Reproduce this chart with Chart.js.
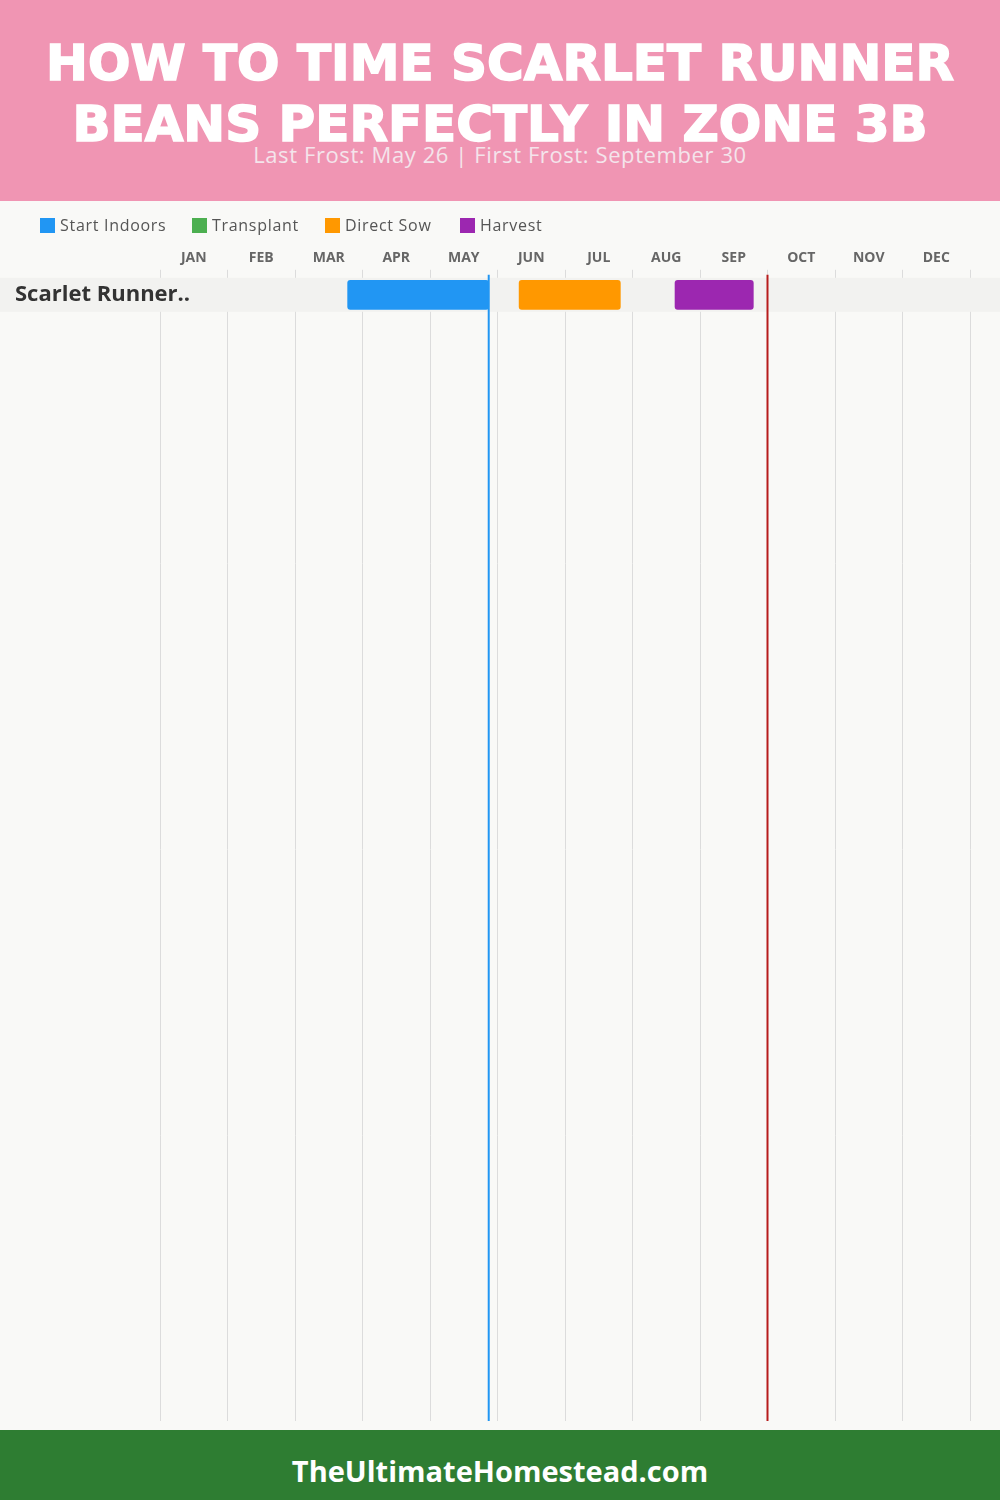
<!DOCTYPE html>
<html><head><meta charset="utf-8">
<script src="https://cdn.jsdelivr.net/npm/chart.js@4.4.1/dist/chart.umd.min.js"></script>
<style>
html,body{margin:0;padding:0;width:1000px;height:1500px;overflow:hidden;background:#f9f9f7;font-family:"Open Sans",sans-serif;}
#header{position:absolute;left:0;top:0;width:1000px;height:201px;background:#f095b3;z-index:2;}
#title{position:absolute;left:0;top:33px;width:1000px;text-align:center;color:#fff;font-family:"DejaVu Sans",sans-serif;font-weight:bold;font-size:50px;line-height:61px;margin:0;-webkit-text-stroke:1.6px #fff;}
#subtitle{position:absolute;left:0;top:140px;width:1000px;text-align:center;color:#f4e4eb;font-size:22px;letter-spacing:0.6px;line-height:28px;}
#legend{position:absolute;top:214px;left:0;width:1000px;height:22px;z-index:3;}
.item{position:absolute;top:0;white-space:nowrap;font-size:16px;letter-spacing:0.7px;color:#555;line-height:22px;}
.sw{display:inline-block;width:15px;height:15px;vertical-align:-2px;margin-right:5px;}
#chartwrap{position:absolute;left:0;top:200px;width:1000px;height:1230px;z-index:1;}
#footer{position:absolute;left:0;top:1430px;width:1000px;height:64px;padding-top:6px;background:#2e7d32;color:#fff;font-weight:bold;font-size:29px;text-align:center;line-height:70px;z-index:2;}
</style>
</head>
<body>
<div id="header">
  <h1 id="title">HOW TO TIME SCARLET RUNNER<br>BEANS PERFECTLY IN ZONE 3B</h1>
  <div id="subtitle">Last Frost: May 26 | First Frost: September 30</div>
</div>
<div id="legend"></div>
<div id="chartwrap"><canvas id="c" width="1000" height="1230"></canvas></div>
<div id="footer">TheUltimateHomestead.com</div>
<script>
// ---- data ----
const months = ['JAN','FEB','MAR','APR','MAY','JUN','JUL','AUG','SEP','OCT','NOV','DEC'];
const crops = ['Scarlet Runner..'];
const seriesNames = ['Start Indoors','Transplant','Direct Sow','Harvest'];
const seriesColors = ['#2196f3','#4caf50','#ff9800','#9c27b0'];
// month-index ranges (0 = Jan 1, 12 = Dec 31) per crop
const startIndoors = [[2.78, 4.87]];
const transplant   = [];
const directSow    = [[5.32, 6.82]];
const harvest      = [[7.63, 8.79]];
const lastFrost  = 4.87;  // May 26
const firstFrost = 9.0;   // September 30
const visibleRows = 33.59;

// ---- legend (html) ----
const legendLeft = [40, 192, 325, 460];
const lg = document.getElementById('legend');
seriesNames.forEach((n, i) => {
  const d = document.createElement('div');
  d.className = 'item';
  d.style.left = legendLeft[i] + 'px';
  d.innerHTML = '<span class="sw" style="background:' + seriesColors[i] + '"></span>' + n;
  lg.appendChild(d);
});

Chart.defaults.font.family = "'Open Sans', sans-serif";

const seriesData = [startIndoors, transplant, directSow, harvest];
const datasets = seriesNames.map((n, i) => ({
  label: n,
  data: seriesData[i].map((r, k) => ({x: r, y: k})),
  backgroundColor: seriesColors[i],
  borderRadius: 3,
  borderSkipped: false,
  barThickness: 29,
  grouped: false
}));

const bandPlugin = {
  id: 'band',
  beforeDatasetsDraw(chart) {
    const {ctx} = chart; const y = chart.scales.y;
    ctx.save();
    ctx.fillStyle = '#f2f2f0';
    crops.forEach((c, i) => {
      const t = y.getPixelForValue(i - 0.5), b = y.getPixelForValue(i + 0.5);
      ctx.fillRect(0, t, chart.width, b - t);
    });
    ctx.restore();
  },
  afterDatasetsDraw(chart) {
    const {ctx, chartArea} = chart; const x = chart.scales.x;
    ctx.save();
    ctx.lineWidth = 2;
    [[lastFrost, '#2196f3'], [firstFrost, '#b71c1c']].forEach(([v, c]) => {
      const px = x.getPixelForValue(v);
      ctx.strokeStyle = c;
      ctx.beginPath();
      ctx.moveTo(px, chartArea.top - 3);
      ctx.lineTo(px, chartArea.bottom);
      ctx.stroke();
    });
    ctx.restore();
  }
};

new Chart(document.getElementById('c'), {
  type: 'bar',
  data: {datasets},
  options: {
    indexAxis: 'y',
    responsive: false,
    animation: false,
    layout: {padding: {top: 47, left: 15, right: 30, bottom: 9}},
    plugins: {legend: {display: false}, tooltip: {enabled: false}},
    scales: {
      x: {
        type: 'linear', position: 'top', min: 0, max: 12,
        border: {display: false},
        grid: {color: '#dcdcdc', lineWidth: 1, tickLength: 8},
        ticks: {
          stepSize: 1, autoSkip: false, maxRotation: 0, padding: 3,
          labelOffset: 33.75,
          color: '#666', font: {size: 14, weight: 'bold'},
          callback: v => months[v] || ''
        }
      },
      y: {
        type: 'linear', reverse: true, offset: false,
        min: -0.5, max: -0.5 + visibleRows,
        border: {display: false},
        grid: {display: false, offset: false},
        afterBuildTicks: s => { s.ticks = crops.map((c, i) => ({value: i})); },
        afterFit: s => { s.width = 145; },
        ticks: {
          z: 1, mirror: true, padding: -145,
          color: '#333', font: {size: 22, weight: 'bold'},
          callback: v => crops[v]
        }
      }
    }
  },
  plugins: [bandPlugin]
});
</script>
</body></html>
